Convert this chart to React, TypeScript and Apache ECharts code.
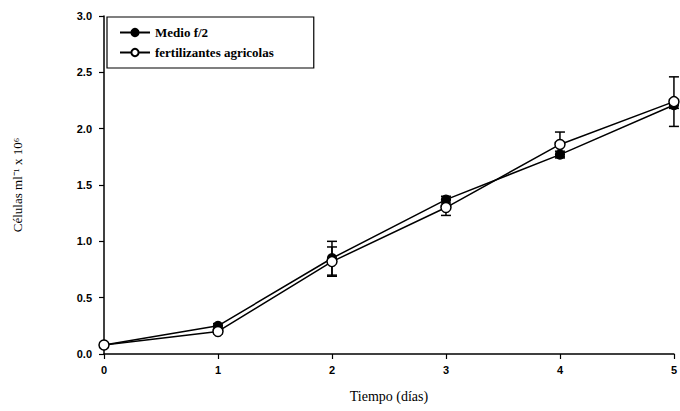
import React, { useEffect, useRef } from "react";
import * as echarts from "echarts";

const days = [0, 1, 2, 3, 4, 5];
const medioF2 = [0.08, 0.25, 0.85, 1.37, 1.77, 2.21];
const medioErr = [0, 0.02, 0.15, 0.03, 0.03, 0.03];
const fertilizantes = [0.08, 0.2, 0.82, 1.3, 1.86, 2.24];
const fertErr = [0, 0.02, 0.13, 0.07, 0.11, 0.22];

const errData = (vals: number[], errs: number[]) =>
  days.map((d, i) => [d, vals[i] - errs[i], vals[i] + errs[i]]);

const renderErr = (params: any, api: any) => {
  const x = api.value(0);
  const lo = api.coord([x, api.value(1)]);
  const hi = api.coord([x, api.value(2)]);
  const w = 5;
  const style = { stroke: "#000", lineWidth: 1.5 };
  return {
    type: "group",
    children: [
      { type: "line", shape: { x1: lo[0], y1: lo[1], x2: hi[0], y2: hi[1] }, style },
      { type: "line", shape: { x1: lo[0] - w, y1: lo[1], x2: lo[0] + w, y2: lo[1] }, style },
      { type: "line", shape: { x1: hi[0] - w, y1: hi[1], x2: hi[0] + w, y2: hi[1] }, style },
    ],
  };
};

export default function App() {
  const ref = useRef<HTMLDivElement>(null);
  useEffect(() => {
    if (!ref.current) return;
    const chart = echarts.init(ref.current, undefined, { renderer: "svg" });
    chart.setOption({
      animation: false,
      backgroundColor: "#fff",
      grid: { left: 104, right: 5, top: 16, bottom: 57 },
      legend: {
        left: 107,
        top: 17,
        orient: "vertical",
        data: ["Medio f/2", "fertilizantes agricolas"],
        borderColor: "#000",
        borderWidth: 1.2,
        padding: [9, 40, 9, 12],
        itemGap: 7,
        itemWidth: 30,
        itemHeight: 9,
        textStyle: { fontFamily: "Liberation Serif", fontSize: 13, fontWeight: "bold", color: "#000" },
      },
      xAxis: {
        type: "value",
        min: 0,
        max: 5,
        interval: 1,
        name: "Tiempo (días)",
        nameLocation: "middle",
        nameGap: 35,
        nameTextStyle: { fontFamily: "Liberation Serif", fontSize: 14, color: "#000" },
        axisLine: { lineStyle: { color: "#000", width: 1.5 } },
        axisTick: { lineStyle: { color: "#000", width: 1.2 }, length: 5 },
        axisLabel: { fontFamily: "Liberation Sans", fontSize: 11, fontWeight: "bold", color: "#000", margin: 10 },
        splitLine: { show: false },
      },
      yAxis: {
        type: "value",
        min: 0,
        max: 3,
        interval: 0.5,
        name: "Células ml⁻¹ x 10⁶",
        nameLocation: "middle",
        nameGap: 80,
        nameTextStyle: { fontFamily: "Liberation Serif", fontSize: 13, color: "#000" },
        axisLine: { show: true, lineStyle: { color: "#000", width: 1.5 } },
        axisTick: { show: true, inside: false, lineStyle: { color: "#000", width: 1.2 }, length: 5 },
        axisLabel: {
          fontFamily: "Liberation Sans",
          fontSize: 11,
          fontWeight: "bold",
          color: "#000",
          margin: 12,
          formatter: (v: number) => v.toFixed(1),
        },
        splitLine: { show: false },
      },
      series: [
        {
          type: "custom",
          renderItem: renderErr,
          data: errData(medioF2, medioErr),
          z: 1,
          silent: true,
        },
        {
          type: "custom",
          renderItem: renderErr,
          data: errData(fertilizantes, fertErr),
          z: 1,
          silent: true,
        },
        {
          name: "Medio f/2",
          type: "line",
          data: days.map((d, i) => [d, medioF2[i]]),
          symbol: "circle",
          symbolSize: 9,
          lineStyle: { color: "#000", width: 1.5 },
          itemStyle: { color: "#000", borderColor: "#000", borderWidth: 1.2 },
          z: 3,
        },
        {
          name: "fertilizantes agricolas",
          type: "line",
          data: days.map((d, i) => [d, fertilizantes[i]]),
          symbol: "circle",
          symbolSize: 10,
          lineStyle: { color: "#000", width: 1.5 },
          itemStyle: { color: "#fff", borderColor: "#000", borderWidth: 1.5 },
          z: 4,
        },
      ],
    });
    return () => chart.dispose();
  }, []);
  return <div ref={ref} style={{ width: 680, height: 411, position: "absolute", left: 0, top: 0 }} />;
}
